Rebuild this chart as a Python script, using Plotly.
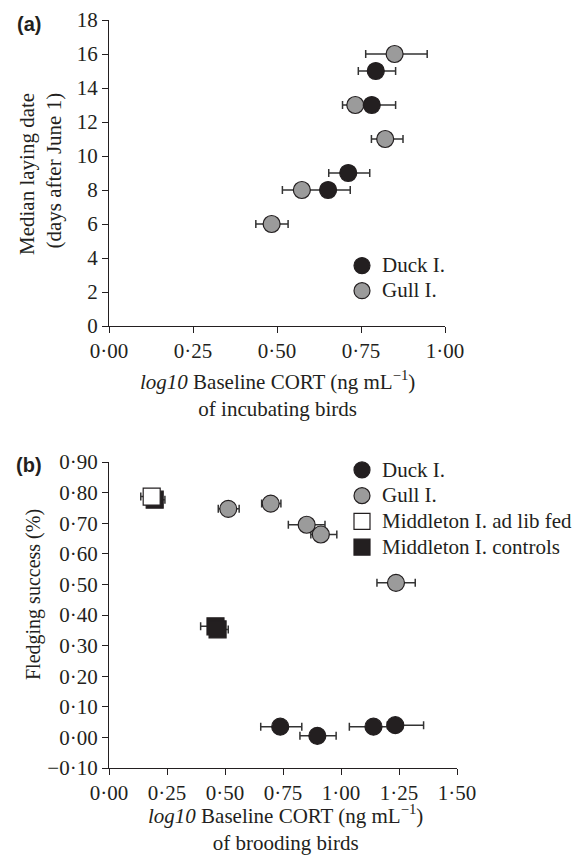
import plotly.graph_objects as go

# ---------------- data ----------------
# Panel (a): median laying date vs log10 baseline CORT of incubating birds
duck_a_x = [0.794, 0.782, 0.712, 0.652]
duck_a_y = [15, 13, 9, 8]
duck_a_lo = [0.742, 0.762, 0.654, 0.632]
duck_a_hi = [0.853, 0.853, 0.776, 0.718]

gull_a_x = [0.850, 0.733, 0.822, 0.574, 0.484]
gull_a_y = [16, 13, 11, 8, 6]
gull_a_lo = [0.764, 0.695, 0.781, 0.516, 0.437]
gull_a_hi = [0.947, 0.773, 0.875, 0.640, 0.533]

# Panel (b): fledging success vs log10 baseline CORT of brooding birds
duck_b_x = [0.738, 0.898, 1.140, 1.234]
duck_b_y = [0.035, 0.005, 0.035, 0.040]
duck_b_lo = [0.654, 0.823, 1.036, 1.200]
duck_b_hi = [0.831, 0.979, 1.210, 1.356]

gull_b_x = [0.514, 0.697, 0.852, 0.913, 1.237]
gull_b_y = [0.747, 0.764, 0.695, 0.663, 0.505]
gull_b_lo = [0.471, 0.658, 0.773, 0.870, 1.155]
gull_b_hi = [0.561, 0.741, 0.931, 0.982, 1.320]

fed_x = [0.184]
fed_y = [0.787]
fed_lo = [0.137]
fed_hi = [0.200]

ctrl_x = [0.197, 0.459, 0.468]
ctrl_y = [0.777, 0.363, 0.353]
ctrl_lo = [0.180, 0.395, 0.450]
ctrl_hi = [0.241, 0.470, 0.514]

xa_ticks = [0, 0.25, 0.5, 0.75, 1.0]
xa_text = ["0·00", "0·25", "0·50", "0·75", "1·00"]
ya_ticks = [0, 2, 4, 6, 8, 10, 12, 14, 16, 18]
ya_text = ["0", "2", "4", "6", "8", "10", "12", "14", "16", "18"]
xb_ticks = [0, 0.25, 0.5, 0.75, 1.0, 1.25, 1.5]
xb_text = ["0·00", "0·25", "0·50", "0·75", "1·00", "1·25", "1·50"]
yb_ticks = [-0.1, 0, 0.1, 0.2, 0.3, 0.4, 0.5, 0.6, 0.7, 0.8, 0.9]
yb_text = ["−0·10", "0·00", "0·10", "0·20", "0·30", "0·40", "0·50",
           "0·60", "0·70", "0·80", "0·90"]

# ---------------- style ----------------
W, H = 586, 855
L, R, T, B = 109, 457, 20, 768
INK = "#231f20"
GRAY = "#9b9b9b"
SERIF = "Liberation Serif, Times New Roman, serif"
SANS = "Liberation Sans, Arial, sans-serif"
TICKF = dict(family=SERIF, size=21, color=INK)


def px(x):
    return (x - L) / (R - L)


def py(y):
    return (B - y) / (B - T)


def errs(x, lo, hi):
    return dict(type="data", symmetric=False,
                array=[h - v for v, h in zip(x, hi)],
                arrayminus=[v - l for v, l in zip(x, lo)],
                color="#333333", thickness=1.5, width=4)


def big(name):
    return '<span style="font-size:21px">' + name + '</span>'


def trace(x, y, lo, hi, name, fill, symbol, xa, ya, leg, rank):
    return go.Scatter(
        x=x, y=y, mode="markers", name=big(name), xaxis=xa, yaxis=ya,
        legend=leg, legendrank=rank,
        error_x=errs(x, lo, hi),
        marker=dict(size=17, color=fill, symbol=symbol,
                    line=dict(color=INK, width=1.2)),
        cliponaxis=False,
    )


fig = go.Figure()
# panel (a)
fig.add_trace(trace(gull_a_x, gull_a_y, gull_a_lo, gull_a_hi, "Gull I.", GRAY,
                    "circle", "x", "y", "legend", 2))
fig.add_trace(trace(duck_a_x, duck_a_y, duck_a_lo, duck_a_hi, "Duck I.", INK,
                    "circle", "x", "y", "legend", 1))
# panel (b)
fig.add_trace(trace(gull_b_x, gull_b_y, gull_b_lo, gull_b_hi, "Gull I.", GRAY,
                    "circle", "x2", "y2", "legend2", 2))
fig.add_trace(trace(duck_b_x, duck_b_y, duck_b_lo, duck_b_hi, "Duck I.", INK,
                    "circle", "x2", "y2", "legend2", 1))
fig.add_trace(trace(ctrl_x, ctrl_y, ctrl_lo, ctrl_hi, "Middleton I. controls",
                    INK, "square", "x2", "y2", "legend2", 4))
fig.add_trace(trace(fed_x, fed_y, fed_lo, fed_hi, "Middleton I. ad lib fed",
                    "white", "square", "x2", "y2", "legend2", 3))

axis_common = dict(showline=True, linecolor=INK, linewidth=1.3,
                   ticks="outside", ticklen=6, tickwidth=1.3, tickcolor=INK,
                   showgrid=False, zeroline=False, tickfont=TICKF,
                   tickmode="array", fixedrange=True, automargin=False)

fig.update_layout(
    width=W, height=H,
    margin=dict(l=L, r=W - R, t=T, b=H - B, autoexpand=False),
    paper_bgcolor="white", plot_bgcolor="white",
    xaxis=dict(domain=[0, px(445)], range=[0, 1], anchor="y",
               tickvals=xa_ticks, ticktext=xa_text, **axis_common),
    yaxis=dict(domain=[py(326), 1], range=[0, 18], anchor="x",
               tickvals=ya_ticks, ticktext=ya_text, **axis_common),
    xaxis2=dict(domain=[0, 1], range=[0, 1.5], anchor="y2",
                tickvals=xb_ticks, ticktext=xb_text, **axis_common),
    yaxis2=dict(domain=[0, py(462)], range=[-0.1, 0.9], anchor="x2",
                tickvals=yb_ticks, ticktext=yb_text, **axis_common),
    legend=dict(x=px(342), y=py(248), xanchor="left", yanchor="top",
                bgcolor="rgba(0,0,0,0)", borderwidth=0,
                font=dict(family=SERIF, size=17, color=INK),
                tracegroupgap=0),
    legend2=dict(x=px(342), y=py(452), xanchor="left", yanchor="top",
                 bgcolor="rgba(0,0,0,0)", borderwidth=0,
                 font=dict(family=SERIF, size=17.5, color=INK),
                 tracegroupgap=0),
    showlegend=True,
)

TITLEF = dict(family=SERIF, size=21, color=INK)
ann = [
    dict(text="<b>(a)</b>", x=px(29), y=py(24),
         font=dict(family=SANS, size=20, color=INK)),
    dict(text="<b>(b)</b>", x=px(29), y=py(465),
         font=dict(family=SANS, size=20, color=INK)),
    dict(text="Median laying date<br>(days after June 1)", x=px(40), y=py(174),
         textangle=-90, align="right", font=TITLEF),
    dict(text="Fledging success (%)", x=px(33), y=py(595),
         textangle=-90, font=dict(family=SERIF, size=20, color=INK)),
    dict(text="<i>log10</i> Baseline CORT (ng mL<sup>−1</sup>)<br>of incubating birds",
         x=px(277), y=py(394), font=TITLEF),
    dict(text="<i>log10</i> Baseline CORT (ng mL<sup>−1</sup>)<br>of brooding birds",
         x=px(285), y=py(828), font=TITLEF),
]
for a in ann:
    a.update(xref="paper", yref="paper", showarrow=False,
             xanchor="center", yanchor="middle")
fig.update_layout(annotations=ann)

fig.write_html("out.html")
